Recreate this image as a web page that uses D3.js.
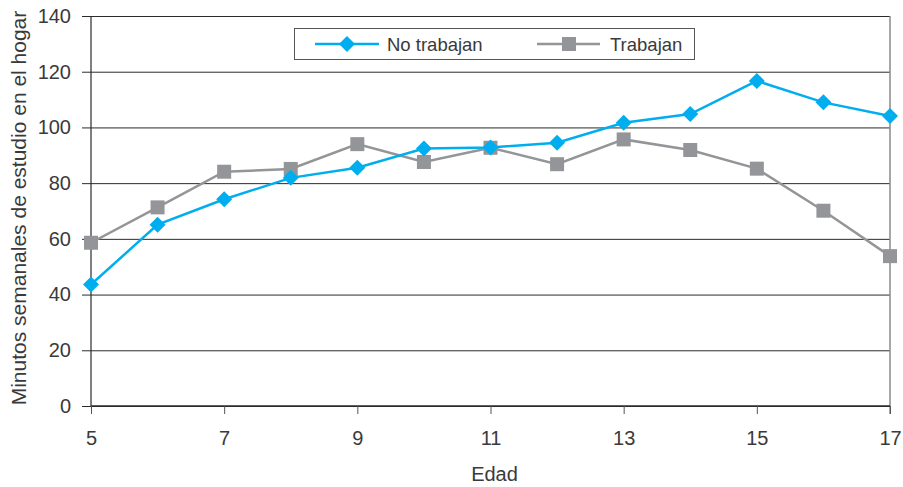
<!DOCTYPE html>
<html>
<head>
<meta charset="utf-8">
<script src="https://cdn.jsdelivr.net/npm/d3@7"></script>
<style>
  html, body { margin: 0; padding: 0; background: #fff; }
  svg text { font-family: "Liberation Sans", Arial, sans-serif; fill: #3a3a3a; }
</style>
</head>
<body>
<svg id="chart" width="903" height="487"></svg>
<script>
// Age (years)
const edades = [5, 6, 7, 8, 9, 10, 11, 12, 13, 14, 15, 16, 17];
// Weekly minutes of home study, students who do not work
const noTrabajan = [43.6, 65.1, 74.2, 81.9, 85.5, 92.4, 92.8, 94.5, 101.7, 104.8, 116.7, 109.0, 104.1];
// Weekly minutes of home study, students who work
const trabajan = [58.6, 71.3, 84.1, 85.1, 94.0, 87.6, 92.7, 86.8, 95.7, 91.9, 85.2, 70.1, 53.8];
const xTicks = [5, 7, 9, 11, 13, 15, 17];
const yTicks = [0, 20, 40, 60, 80, 100, 120, 140];
const seriesNames = ["No trabajan", "Trabajan"];
const seriesColors = ["#00aeef", "#939598"];

const svg = d3.select("#chart");
const plot = { left: 91, right: 890, top: 16, bottom: 406 };

const x = d3.scaleLinear().domain([5, 17]).range([plot.left, plot.right]);
const y = d3.scaleLinear().domain([0, 140]).range([plot.bottom, plot.top]);

// Horizontal gridlines with left tick stubs
const yAxis = d3.axisLeft(y).tickValues(yTicks).tickSize(-(plot.right - plot.left)).tickPadding(20);
const gy = svg.append("g").attr("transform", `translate(${plot.left},0)`).call(yAxis);
gy.select(".domain").remove();
gy.selectAll(".tick line").attr("x1", -9).attr("stroke", "#2b2b2b").attr("stroke-width", 1);
gy.selectAll(".tick text").attr("font-size", 20).attr("fill", "#3a3a3a")
  .attr("font-family", "Liberation Sans, Arial, sans-serif");

// Right frame edge
svg.append("line").attr("x1", plot.right).attr("x2", plot.right)
  .attr("y1", plot.top).attr("y2", plot.bottom + 8)
  .attr("stroke", "#8a8a8a").attr("stroke-width", 1.5);

// Left axis line
svg.append("line").attr("x1", plot.left).attr("x2", plot.left)
  .attr("y1", plot.top).attr("y2", plot.bottom)
  .attr("stroke", "#2b2b2b").attr("stroke-width", 1.2);

// Bottom axis
const xAxis = d3.axisBottom(x).tickValues(xTicks).tickSize(8).tickPadding(17).tickFormat(d3.format("d"));
const gx = svg.append("g").attr("transform", `translate(0,${plot.bottom})`).call(xAxis);
gx.select(".domain").attr("stroke", "#2b2b2b").attr("stroke-width", 1.5)
  .attr("d", `M${plot.left},0H${plot.right}`);
gx.selectAll(".tick line").attr("stroke", "#555");
gx.selectAll(".tick text").attr("font-size", 20).attr("fill", "#3a3a3a")
  .attr("font-family", "Liberation Sans, Arial, sans-serif");

// Axis titles
svg.append("text").attr("x", 494.5).attr("y", 481)
  .attr("text-anchor", "middle").attr("font-size", 20).text("Edad");
svg.append("text").attr("transform", `translate(26,${(plot.top + plot.bottom) / 2 - 3}) rotate(-90)`)
  .attr("text-anchor", "middle").attr("font-size", 21).text("Minutos semanales de estudio en el hogar");

const line = d3.line().x((d, i) => x(edades[i])).y(d => y(d));

// Working students: grey line with square markers
svg.append("path").datum(trabajan).attr("d", line)
  .attr("fill", "none").attr("stroke", seriesColors[1]).attr("stroke-width", 2.5);
svg.append("g").selectAll("rect").data(trabajan).join("rect")
  .attr("x", (d, i) => x(edades[i]) - 7).attr("y", d => y(d) - 7)
  .attr("width", 14).attr("height", 14).attr("fill", seriesColors[1]);

// Non-working students: blue line with diamond markers
const diamond = "M0,-8L8,0L0,8L-8,0Z";
svg.append("path").datum(noTrabajan).attr("d", line)
  .attr("fill", "none").attr("stroke", seriesColors[0]).attr("stroke-width", 2.5);
svg.append("g").selectAll("path").data(noTrabajan).join("path")
  .attr("d", diamond)
  .attr("transform", (d, i) => `translate(${x(edades[i])},${y(d)})`)
  .attr("fill", seriesColors[0]);

// Legend
const lg = svg.append("g");
lg.append("rect").attr("x", 294.5).attr("y", 28.5).attr("width", 400).attr("height", 31)
  .attr("fill", "#fff").attr("stroke", "#555").attr("stroke-width", 1);
lg.append("line").attr("x1", 315).attr("x2", 379).attr("y1", 44).attr("y2", 44)
  .attr("stroke", seriesColors[0]).attr("stroke-width", 2.5);
lg.append("path").attr("d", diamond).attr("transform", "translate(347,44)").attr("fill", seriesColors[0]);
lg.append("text").attr("x", 387).attr("y", 50.5).attr("font-size", 18.5).text(seriesNames[0]);
lg.append("line").attr("x1", 537).attr("x2", 600).attr("y1", 44).attr("y2", 44)
  .attr("stroke", seriesColors[1]).attr("stroke-width", 2.5);
lg.append("rect").attr("x", 562).attr("y", 37).attr("width", 14).attr("height", 14).attr("fill", seriesColors[1]);
lg.append("text").attr("x", 610).attr("y", 50.5).attr("font-size", 18.5).text(seriesNames[1]);
</script>
</body>
</html>
